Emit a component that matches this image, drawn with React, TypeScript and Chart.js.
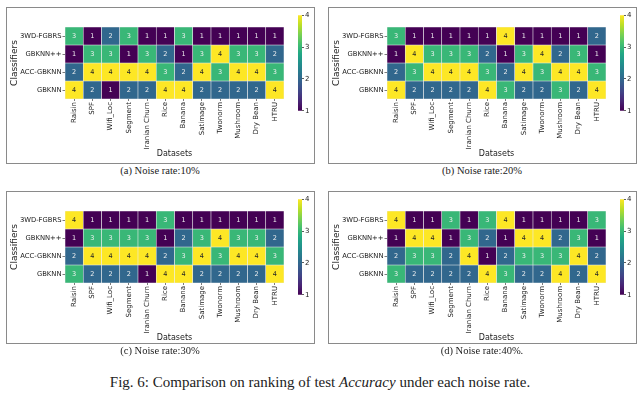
import React, { useEffect, useRef } from 'react';
import { Chart, registerables } from 'chart.js';
Chart.register(...registerables);

const datasetNames = ['Raisin', 'SPF', 'Wifi_Loc', 'Segment', 'Iranian Churn', 'Rice', 'Banana', 'Satimage', 'Twonorm', 'Mushroom', 'Dry Bean', 'HTRU'];
const classifiers = ['3WD-FGBRS', 'GBKNN++', 'ACC-GBKNN', 'GBKNN'];
const colorbarTicks = [1, 2, 3, 4];

// rows: 3WD-FGBRS, GBKNN++, ACC-GBKNN, GBKNN
const rank10: number[][] = [
  [3, 1, 2, 3, 1, 1, 3, 1, 1, 1, 1, 1],
  [1, 3, 3, 1, 3, 2, 1, 3, 4, 3, 3, 2],
  [2, 4, 4, 4, 4, 3, 2, 4, 3, 4, 4, 3],
  [4, 2, 1, 2, 2, 4, 4, 2, 2, 2, 2, 4],
];
const rank20: number[][] = [
  [3, 1, 1, 1, 1, 1, 4, 1, 1, 1, 1, 2],
  [1, 4, 3, 3, 3, 2, 1, 3, 4, 2, 3, 1],
  [2, 3, 4, 4, 4, 3, 2, 4, 3, 4, 4, 3],
  [4, 2, 2, 2, 2, 4, 3, 2, 2, 3, 2, 4],
];
const rank30: number[][] = [
  [4, 1, 1, 1, 1, 3, 1, 1, 1, 1, 1, 1],
  [1, 3, 3, 3, 3, 1, 2, 3, 4, 3, 3, 2],
  [2, 4, 4, 4, 4, 2, 3, 4, 3, 4, 4, 3],
  [3, 2, 2, 2, 1, 4, 4, 2, 2, 2, 2, 4],
];
const rank40: number[][] = [
  [4, 1, 1, 3, 1, 3, 4, 1, 1, 1, 1, 3],
  [1, 4, 4, 1, 3, 2, 1, 4, 4, 2, 3, 1],
  [2, 3, 3, 2, 4, 1, 2, 3, 3, 3, 4, 2],
  [3, 2, 2, 2, 2, 4, 3, 2, 2, 4, 2, 4],
];

const captions = ['(a) Noise rate:10%', '(b) Noise rate:20%', '(c) Noise rate:30%', '(d) Noise rate:40%.'];
const panelData = [rank10, rank20, rank30, rank40];

const VIRIDIS = ['#440154', '#482475', '#414487', '#355f8d', '#2a788e', '#21918c', '#22a884', '#44bf70', '#7ad151', '#bddf26', '#fde725'];
const FONT = "'DejaVu Sans', sans-serif";

function hexToRgb(h: string) {
  return [parseInt(h.slice(1, 3), 16), parseInt(h.slice(3, 5), 16), parseInt(h.slice(5, 7), 16)];
}
function viridis(t: number) {
  const x = Math.max(0, Math.min(1, t)) * (VIRIDIS.length - 1);
  const i = Math.min(Math.floor(x), VIRIDIS.length - 2);
  const f = x - i;
  const a = hexToRgb(VIRIDIS[i]);
  const b = hexToRgb(VIRIDIS[i + 1]);
  const c = a.map((v, k) => Math.round(v + (b[k] - v) * f));
  return `rgb(${c[0]},${c[1]},${c[2]})`;
}
const VMIN = 1, VMAX = 4;
function cellColor(v: number) {
  return viridis((v - VMIN) / (VMAX - VMIN));
}

const cellTextPlugin = {
  id: 'cellText',
  afterDatasetsDraw(chart: any) {
    const ctx = chart.ctx;
    ctx.save();
    ctx.font = `6.5px ${FONT}`;
    ctx.textAlign = 'center';
    ctx.textBaseline = 'middle';
    chart.data.datasets.forEach((ds: any, r: number) => {
      const meta = chart.getDatasetMeta(r);
      meta.data.forEach((el: any, i: number) => {
        const v = ds.values[i];
        ctx.fillStyle = v >= 4 ? '#262626' : '#f0f0f0';
        ctx.fillText(String(v), el.x, (el.y + el.base) / 2);
      });
    });
    ctx.restore();
  },
};

function Heatmap({ values, left, top }: { values: number[][]; left: number; top: number }) {
  const ref = useRef<HTMLCanvasElement>(null);
  useEffect(() => {
    const chart = new Chart(ref.current!, {
      type: 'bar',
      data: {
        labels: datasetNames,
        datasets: classifiers.map((name, r) => ({
          label: name,
          values: values[r],
          data: values[r].map(() => [r - 0.5, r + 0.5]),
          backgroundColor: values[r].map((v) => cellColor(v)),
          borderColor: 'rgba(235,235,235,0.9)',
          borderWidth: 0.6,
          borderSkipped: false,
          grouped: false,
          barPercentage: 1,
          categoryPercentage: 1,
        })) as any,
      },
      options: {
        responsive: false,
        animation: false,
        layout: { padding: { top: 19, right: 3, left: 0, bottom: 0 } },
        plugins: { legend: { display: false }, tooltip: { enabled: false } },
        scales: {
          x: {
            type: 'category',
            offset: true,
            border: { display: false },
            grid: { display: true, offset: false, drawOnChartArea: false, drawTicks: true, tickLength: 2, color: '#444', lineWidth: 0.7 },
            ticks: { autoSkip: false, minRotation: 90, maxRotation: 90, padding: 1, color: '#222', font: { family: FONT, size: 7 } },
            title: { display: true, text: 'Datasets', color: '#222', font: { family: FONT, size: 8 }, padding: { top: 0, bottom: 3 } },
            afterFit: (s: any) => { s.height = 63; },
          },
          y: {
            type: 'linear',
            min: -0.5,
            max: 3.5,
            reverse: true,
            afterBuildTicks: (s: any) => { s.ticks = classifiers.map((_, i) => ({ value: i })); },
            border: { display: false },
            grid: { display: true, drawOnChartArea: false, drawTicks: true, tickLength: 2.5, color: '#444', lineWidth: 0.7 },
            ticks: { padding: 1, color: '#222', font: { family: FONT, size: 6.8 }, callback: (v: any) => classifiers[v] ?? '' },
            title: { display: true, text: 'Classifiers', color: '#222', font: { family: FONT, size: 9 }, padding: { top: 2, bottom: 2 } },
            afterFit: (s: any) => { s.width = 58; },
          },
        },
      } as any,
      plugins: [cellTextPlugin],
    });
    return () => chart.destroy();
  }, [values]);
  return <canvas ref={ref} width={280} height={154} style={{ position: 'absolute', left, top }} />;
}

function Colorbar({ left, top }: { left: number; top: number }) {
  const ref = useRef<HTMLCanvasElement>(null);
  useEffect(() => {
    const chart = new Chart(ref.current!, {
      type: 'bar',
      data: {
        labels: [''],
        datasets: [{
          data: [[VMIN, VMAX]],
          backgroundColor: (c: any) => {
            const area = c.chart.chartArea;
            if (!area) return VIRIDIS[5];
            const g = c.chart.ctx.createLinearGradient(0, area.bottom, 0, area.top);
            VIRIDIS.forEach((col, i) => g.addColorStop(i / (VIRIDIS.length - 1), col));
            return g;
          },
          borderWidth: 0,
          barPercentage: 1,
          categoryPercentage: 1,
        }] as any,
      },
      options: {
        responsive: false,
        animation: false,
        layout: { padding: { top: 5, bottom: 5, left: 4, right: 0 } },
        plugins: { legend: { display: false }, tooltip: { enabled: false } },
        scales: {
          x: { display: false },
          y: {
            position: 'right',
            min: VMIN,
            max: VMAX,
            afterBuildTicks: (s: any) => { s.ticks = colorbarTicks.map((v) => ({ value: v })); },
            border: { display: false },
            grid: { drawOnChartArea: false, drawTicks: true, tickLength: 2, color: '#333', lineWidth: 0.8 },
            ticks: { padding: 1, color: '#222', font: { family: FONT, size: 7 } },
            afterFit: (s: any) => { s.width = 14; },
          },
        },
      } as any,
    });
    return () => chart.destroy();
  }, []);
  return <canvas ref={ref} width={22} height={106} style={{ position: 'absolute', left, top }} />;
}

const OFFSETS = [
  { x: 0, y: 0 },
  { x: 322, y: 0 },
  { x: 0, y: 184 },
  { x: 322, y: 184 },
];

export default function App() {
  return (
    <div style={{ position: 'absolute', left: 0, top: 0, width: 640, height: 394, background: '#fff', overflow: 'hidden' }}>
      {OFFSETS.map((o, k) => (
        <React.Fragment key={k}>
          <div style={{ position: 'absolute', left: 6 + o.x, top: 7 + o.y, width: 307, height: k < 2 ? 155 : 151, border: '1px solid #8a8a8a', boxSizing: 'content-box' }} />
          <Heatmap values={panelData[k]} left={7 + o.x} top={8 + o.y} />
          <Colorbar left={294 + o.x} top={10 + o.y} />
          <div style={{ position: 'absolute', left: o.x, width: 320, top: (k < 2 ? 164 : 344), textAlign: 'center', fontFamily: "'Liberation Serif', serif", fontSize: 10.5, lineHeight: '14px', color: '#222' }}>
            {captions[k]}
          </div>
        </React.Fragment>
      ))}
      <div style={{ position: 'absolute', left: 0, width: 640, top: 373, textAlign: 'center', fontFamily: "'Liberation Serif', serif", fontSize: 15, lineHeight: '18px', color: '#222' }}>
        Fig. 6: Comparison on ranking of test <i>Accuracy</i> under each noise rate.
      </div>
    </div>
  );
}
